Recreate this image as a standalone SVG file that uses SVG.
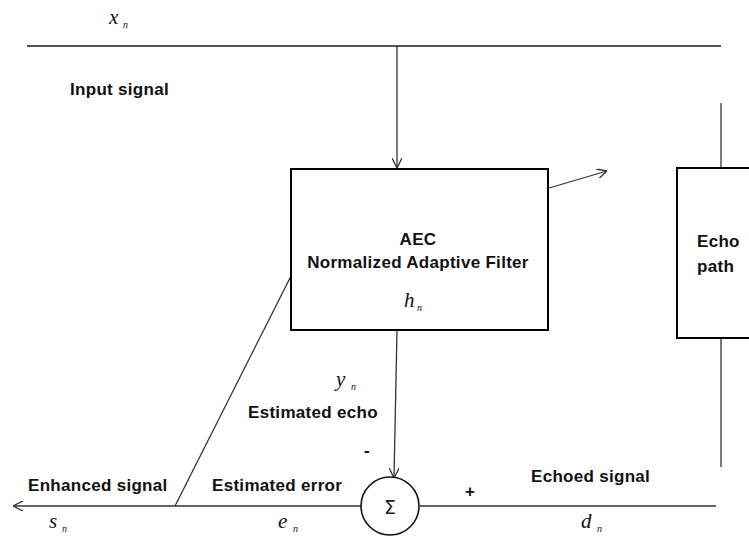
<svg xmlns="http://www.w3.org/2000/svg" width="749" height="536" viewBox="0 0 749 536">
<defs>
<style>
.ln{stroke:#333;stroke-width:1.3;fill:none}
.bx{stroke:#000;stroke-width:2;fill:#fff}
.lb{font-family:"Liberation Sans",Arial,sans-serif;font-weight:bold;font-size:17px;letter-spacing:0.3px;fill:#111}
.mv{font-family:"Liberation Serif","Times New Roman",serif;font-style:italic;font-size:21px;fill:#111}
.sb{font-family:"Liberation Serif","Times New Roman",serif;font-style:italic;font-size:10px;fill:#111}
</style>
<marker id="ah" viewBox="0 0 10 10" refX="10" refY="5" markerWidth="10" markerHeight="10" markerUnits="userSpaceOnUse" orient="auto">
<path d="M0,0 L10,5 L0,10" fill="none" stroke="#333" stroke-width="1.3"/>
</marker>
</defs>
<g id="connectors">
<line class="ln" x1="27" y1="46" x2="721" y2="46" style="stroke:#555;stroke-width:1.8"/>
<line class="ln" x1="397" y1="46" x2="397" y2="168" marker-end="url(#ah)"/>
<line class="ln" x1="721" y1="103" x2="721" y2="168"/>
<line class="ln" x1="721" y1="338" x2="721" y2="467"/>
<line class="ln" x1="549" y1="188" x2="607" y2="171" marker-end="url(#ah)"/>
<line class="ln" x1="291" y1="276" x2="175" y2="506"/>
<line class="ln" x1="397" y1="330" x2="394" y2="478" marker-end="url(#ah)"/>
<line class="ln" x1="361" y1="506" x2="13" y2="506" marker-end="url(#ah)"/>
<line class="ln" x1="420" y1="506" x2="716" y2="506"/>
</g>
<g id="aec">
<rect class="bx" x="291" y="169" width="257" height="161"/>
<text class="lb" x="418" y="245" text-anchor="middle">AEC</text>
<text class="lb" x="418" y="268" text-anchor="middle">Normalized Adaptive Filter</text>
<text class="mv" x="404" y="307">h</text><text class="sb" x="417" y="311">n</text>
</g>
<g id="echo-path">
<rect class="bx" x="677" y="168" width="80" height="170"/>
<text class="lb" x="697" y="247">Echo</text>
<text class="lb" x="697" y="272">path</text>
</g>
<g id="sum">
<ellipse cx="390" cy="506" rx="29" ry="29" style="stroke:#111;stroke-width:1.6;fill:#fff"/>
<text x="390" y="514" text-anchor="middle" style="font-family:'DejaVu Sans',sans-serif;font-size:19px;fill:#222">Σ</text>
</g>
<g id="labels">
<text class="mv" x="109" y="24">x</text><text class="sb" x="123" y="28">n</text>
<text class="lb" x="70" y="95">Input signal</text>
<text class="mv" x="336" y="386">y</text><text class="sb" x="351" y="390">n</text>
<text class="lb" x="248" y="418">Estimated echo</text>
<text class="lb" x="364" y="456">-</text>
<text class="lb" x="28" y="491">Enhanced signal</text>
<text class="lb" x="212" y="491">Estimated error</text>
<text class="lb" x="465" y="497">+</text>
<text class="lb" x="531" y="482">Echoed signal</text>
<text class="mv" x="49" y="528">s</text><text class="sb" x="62" y="532">n</text>
<text class="mv" x="278" y="528">e</text><text class="sb" x="293" y="532">n</text>
<text class="mv" x="581" y="528">d</text><text class="sb" x="597" y="532">n</text>
</g>
</svg>
